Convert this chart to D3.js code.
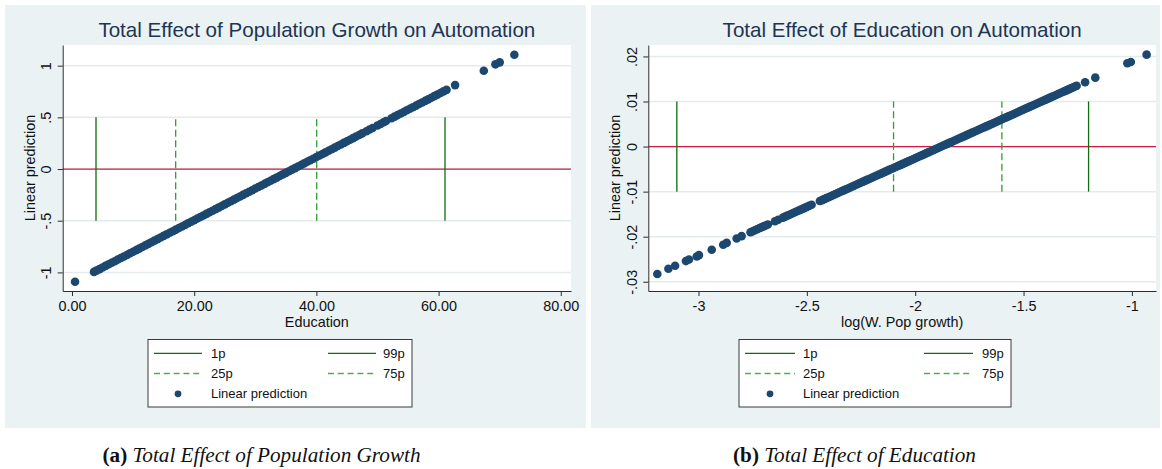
<!DOCTYPE html>
<html>
<head>
<meta charset="utf-8">
<script src="https://cdn.jsdelivr.net/npm/d3@7"></script>
<style>
  body { margin: 0; background: #ffffff; }
  text { font-family: "Liberation Sans", Arial, sans-serif; }
</style>
</head>
<body>
<svg id="chart" width="1162" height="469"></svg>
<script>
// ---- Panel (a): linear prediction of automation against Education ----
const popPoints = [
  [0.5,-1.090],[3.6,-0.995],[4.0,-0.983],[4.5,-0.968],[5.0,-0.953],[5.5,-0.937],[6.0,-0.922],
  [6.5,-0.907],[7.0,-0.892],[7.5,-0.876],[8.0,-0.861],[8.5,-0.846],[9.0,-0.831],[9.5,-0.815],
  [10.0,-0.800],[10.5,-0.785],[11.0,-0.770],[11.5,-0.754],[12.0,-0.739],[12.5,-0.724],[13.0,-0.709],
  [13.5,-0.693],[14.0,-0.678],[14.5,-0.663],[15.0,-0.647],[15.5,-0.632],[16.0,-0.617],[16.5,-0.602],
  [17.0,-0.586],[17.5,-0.571],[18.0,-0.556],[18.5,-0.541],[19.0,-0.525],[19.5,-0.510],[20.0,-0.495],
  [20.5,-0.479],[21.0,-0.464],[21.5,-0.449],[22.0,-0.434],[22.5,-0.418],[23.0,-0.403],[23.5,-0.388],
  [24.0,-0.373],[24.5,-0.357],[25.0,-0.342],[25.5,-0.327],[26.0,-0.312],[26.5,-0.296],[27.0,-0.281],
  [27.5,-0.266],[28.0,-0.250],[28.5,-0.235],[29.0,-0.220],[29.5,-0.205],[30.0,-0.189],[30.5,-0.174],
  [31.0,-0.159],[31.5,-0.144],[32.0,-0.128],[32.5,-0.113],[33.0,-0.098],[33.5,-0.083],[34.0,-0.067],
  [34.5,-0.052],[35.0,-0.037],[35.5,-0.022],[36.0,-0.006],[36.5,0.009],[37.0,0.024],[37.5,0.039],
  [38.0,0.055],[38.5,0.070],[39.0,0.085],[39.5,0.100],[40.0,0.116],[40.5,0.131],[41.0,0.146],
  [41.5,0.161],[42.0,0.177],[42.5,0.192],[43.0,0.207],[43.5,0.223],[44.0,0.238],[44.5,0.253],
  [45.0,0.268],[45.5,0.284],[46.0,0.299],[46.5,0.314],[47.0,0.329],[47.5,0.345],[48.2,0.366],
  [48.7,0.382],[49.2,0.397],[50.0,0.421],[50.5,0.436],[51.0,0.452],[51.4,0.464],[52.3,0.491],
  [52.8,0.507],[53.3,0.522],[53.8,0.537],[54.3,0.552],[54.8,0.568],[55.3,0.583],[55.8,0.598],
  [56.3,0.613],[56.8,0.629],[57.3,0.644],[57.8,0.659],[58.3,0.674],[58.8,0.690],[59.3,0.705],
  [59.8,0.720],[60.3,0.735],[60.8,0.751],[61.3,0.766],[62.7,0.812],[67.4,0.951],[69.3,1.013],
  [70.0,1.032],[72.4,1.105]
];
const popPercentiles = [3.93, 16.97, 40.05, 61.05];
const popXTicks = [0, 20, 40, 60, 80];
const popXTickLabels = ["0.00", "20.00", "40.00", "60.00", "80.00"];
const popYTicks = [-1, -0.5, 0, 0.5, 1];
const popYTickLabels = ["-1", "-.5", "0", ".5", "1"];

// ---- Panel (b): linear prediction of automation against log(W. Pop growth) ----
const eduPoints = [
  [-3.190,-0.02829],[-3.139,-0.02712],[-3.108,-0.02645],[-3.058,-0.02541],[-3.044,-0.02506],
  [-3.008,-0.02439],[-2.998,-0.02408],[-2.939,-0.02290],[-2.886,-0.02180],[-2.870,-0.02137],
  [-2.824,-0.02040],[-2.801,-0.01987],
  [-2.76,-0.01900],[-2.75,-0.01879],[-2.74,-0.01857],[-2.73,-0.01836],[-2.72,-0.01814],
  [-2.71,-0.01793],[-2.70,-0.01771],[-2.69,-0.01750],[-2.68,-0.01728],
  [-2.647,-0.01656],[-2.632,-0.01624],
  [-2.61,-0.01577],[-2.60,-0.01555],[-2.59,-0.01533],[-2.58,-0.01512],[-2.57,-0.01490],
  [-2.56,-0.01469],[-2.55,-0.01447],[-2.54,-0.01425],[-2.53,-0.01404],[-2.52,-0.01382],
  [-2.51,-0.01361],[-2.50,-0.01339],[-2.49,-0.01317],[-2.478,-0.01292],
  [-2.44,-0.01209],[-2.43,-0.01188],[-2.42,-0.01166],[-2.41,-0.01145],[-2.40,-0.01123],
  [-2.39,-0.01102],[-2.38,-0.01080],[-2.37,-0.01059],[-2.36,-0.01037],[-2.35,-0.01015],
  [-2.34,-0.00993],[-2.33,-0.00972],[-2.32,-0.00950],[-2.31,-0.00929],[-2.30,-0.00907],
  [-2.29,-0.00886],[-2.28,-0.00864],[-2.27,-0.00843],[-2.26,-0.00821],[-2.25,-0.00799],
  [-2.24,-0.00777],[-2.23,-0.00756],[-2.22,-0.00734],[-2.21,-0.00713],[-2.20,-0.00691],
  [-2.19,-0.00670],[-2.18,-0.00648],[-2.17,-0.00627],[-2.16,-0.00605],[-2.15,-0.00583],
  [-2.14,-0.00561],[-2.13,-0.00540],[-2.12,-0.00518],[-2.11,-0.00497],[-2.10,-0.00475],
  [-2.09,-0.00454],[-2.08,-0.00432],[-2.07,-0.00411],[-2.06,-0.00389],[-2.05,-0.00367],
  [-2.04,-0.00345],[-2.03,-0.00324],[-2.02,-0.00302],[-2.01,-0.00281],[-2.00,-0.00259],
  [-1.99,-0.00238],[-1.98,-0.00216],[-1.97,-0.00195],[-1.96,-0.00173],[-1.95,-0.00151],
  [-1.94,-0.00129],[-1.93,-0.00108],[-1.92,-0.00086],[-1.91,-0.00065],[-1.90,-0.00043],
  [-1.89,-0.00022],[-1.88,0.00000],[-1.87,0.00022],[-1.86,0.00043],[-1.85,0.00065],
  [-1.84,0.00087],[-1.83,0.00108],[-1.82,0.00130],[-1.81,0.00151],[-1.80,0.00173],
  [-1.79,0.00195],[-1.78,0.00216],[-1.77,0.00238],[-1.76,0.00259],[-1.75,0.00281],
  [-1.74,0.00303],[-1.73,0.00324],[-1.72,0.00346],[-1.71,0.00367],[-1.70,0.00389],
  [-1.69,0.00411],[-1.68,0.00432],[-1.67,0.00454],[-1.66,0.00475],[-1.65,0.00497],
  [-1.64,0.00519],[-1.63,0.00540],[-1.62,0.00562],[-1.61,0.00583],[-1.60,0.00605],
  [-1.59,0.00627],[-1.58,0.00648],[-1.57,0.00670],[-1.56,0.00691],[-1.55,0.00713],
  [-1.54,0.00735],[-1.53,0.00756],[-1.52,0.00778],[-1.51,0.00799],[-1.50,0.00821],
  [-1.49,0.00843],[-1.48,0.00864],[-1.47,0.00886],[-1.46,0.00907],[-1.45,0.00929],
  [-1.44,0.00951],[-1.43,0.00972],[-1.42,0.00994],[-1.41,0.01015],[-1.40,0.01037],
  [-1.39,0.01059],[-1.38,0.01080],[-1.37,0.01102],[-1.36,0.01123],[-1.35,0.01145],
  [-1.34,0.01167],[-1.33,0.01188],[-1.32,0.01210],[-1.31,0.01231],[-1.30,0.01253],
  [-1.29,0.01275],[-1.28,0.01296],[-1.27,0.01318],[-1.26,0.01339],[-1.255,0.01350],
  [-1.216,0.01428],[-1.169,0.01530],[-1.021,0.01849],[-1.005,0.01878],[-0.932,0.02040]
];
const eduPercentiles = [-3.10, -2.10, -1.60, -1.20];
const eduXTicks = [-3, -2.5, -2, -1.5, -1];
const eduXTickLabels = ["-3", "-2.5", "-2", "-1.5", "-1"];
const eduYTicks = [-0.03, -0.02, -0.01, 0, 0.01, 0.02];
const eduYTickLabels = ["-.03", "-.02", "-.01", "0", ".01", ".02"];

const percentileNames = ["1p", "25p", "75p", "99p"];
const predictionLabel = "Linear prediction";

// ---- styling ----
const C = {
  region: "#eaf2f3",
  grid: "#e3ebed",
  title: "#1f3454",
  marker: "#1c4870",
  zero: "#cc1c46",
  solidGreen: "#0d6e0d",
  dashGreen: "#2f9e34",
  legendDash: "#4fae50",
  axis: "#2b2b2b",
  text: "#111111"
};

const svg = d3.select("#chart");

function drawPanel(p) {
  const g = svg.append("g");

  // graph region and plot region
  g.append("rect").attr("x", p.bg[0]).attr("y", p.bg[1])
    .attr("width", p.bg[2]).attr("height", p.bg[3]).attr("fill", C.region);
  g.append("rect").attr("x", p.left).attr("y", p.top)
    .attr("width", p.right - p.left).attr("height", p.bottom - p.top).attr("fill", "#ffffff");

  const x = d3.scaleLinear().domain(p.xDomain).range([p.left, p.right]);
  const y = d3.scaleLinear().domain(p.yDomain).range([p.bottom, p.top]);

  // horizontal gridlines
  g.append("g").selectAll("line").data(p.yTicks).join("line")
    .attr("x1", p.left).attr("x2", p.right)
    .attr("y1", d => y(d)).attr("y2", d => y(d))
    .attr("stroke", C.grid).attr("stroke-width", 1.5);

  // reference line at zero
  g.append("line")
    .attr("x1", p.left).attr("x2", p.right)
    .attr("y1", y(0)).attr("y2", y(0))
    .attr("stroke", C.zero).attr("stroke-width", 1.3);

  // percentile markers
  g.append("g").selectAll("line").data(p.percentiles).join("line")
    .attr("x1", d => x(d)).attr("x2", d => x(d))
    .attr("y1", y(p.pctSpan[0])).attr("y2", y(p.pctSpan[1]))
    .attr("stroke", (d, i) => (i === 0 || i === 3) ? C.solidGreen : C.dashGreen)
    .attr("stroke-width", 1.3)
    .attr("stroke-dasharray", (d, i) => (i === 0 || i === 3) ? null : "7,3.5");

  // linear prediction points
  g.append("g").selectAll("circle").data(p.points).join("circle")
    .attr("cx", d => x(d[0])).attr("cy", d => y(d[1]))
    .attr("r", 4.3).attr("fill", C.marker);

  // y axis
  const ya = g.append("g").attr("transform", `translate(${p.left},0)`)
    .call(d3.axisLeft(y).tickValues(p.yTicks)
      .tickFormat((d, i) => p.yTickLabels[i]).tickSize(5).tickSizeOuter(0));
  ya.select(".domain").attr("stroke", C.axis);
  ya.selectAll(".tick line").attr("stroke", C.axis);
  ya.selectAll(".tick text")
    .attr("x", 0).attr("y", 0)
    .attr("transform", "translate(-16.5,0) rotate(-90)")
    .attr("text-anchor", "middle").attr("dy", "0.36em")
    .attr("fill", C.text).style("font-size", "14.4px")
    .style("font-family", "'Liberation Sans', Arial, sans-serif");

  // x axis
  const xa = g.append("g").attr("transform", `translate(0,${p.bottom})`)
    .call(d3.axisBottom(x).tickValues(p.xTicks)
      .tickFormat((d, i) => p.xTickLabels[i]).tickSize(5).tickPadding(4.5).tickSizeOuter(0));
  xa.select(".domain").attr("stroke", C.axis);
  xa.selectAll(".tick line").attr("stroke", C.axis);
  xa.selectAll(".tick text").attr("fill", C.text).style("font-size", "14.4px")
    .style("font-family", "'Liberation Sans', Arial, sans-serif");

  // axis titles
  g.append("text")
    .attr("transform", `translate(${p.left - 33},${(p.top + p.bottom) / 2}) rotate(-90)`)
    .attr("text-anchor", "middle").attr("dy", "0.36em")
    .attr("fill", C.text).style("font-size", "14.4px")
    .text(predictionLabel);
  g.append("text")
    .attr("x", (p.left + p.right) / 2).attr("y", p.bottom + 36)
    .attr("text-anchor", "middle").attr("fill", C.text).style("font-size", "14.4px")
    .text(p.xTitle);

  // chart title
  g.append("text")
    .attr("x", (p.left + p.right) / 2).attr("y", 36.5)
    .attr("text-anchor", "middle").attr("fill", C.title).style("font-size", "20.6px")
    .text(p.title);

  // legend
  const L = p.legend;
  const lg = g.append("g");
  lg.append("rect").attr("x", L.x0).attr("y", 339.5)
    .attr("width", L.x1 - L.x0).attr("height", 67.5)
    .attr("fill", "#ffffff").attr("stroke", "#3a3a3a").attr("stroke-width", 1);
  const rows = [353.3, 373.5, 393.8];
  const entries = [
    { name: percentileNames[0], col: 0, row: 0, dash: false },
    { name: percentileNames[3], col: 1, row: 0, dash: false },
    { name: percentileNames[1], col: 0, row: 1, dash: true },
    { name: percentileNames[2], col: 1, row: 1, dash: true }
  ];
  entries.forEach(e => {
    const lx = L.cols[e.col];
    lg.append("line")
      .attr("x1", lx[0]).attr("x2", lx[1])
      .attr("y1", rows[e.row]).attr("y2", rows[e.row])
      .attr("stroke", e.dash ? C.legendDash : C.solidGreen).attr("stroke-width", 1.3)
      .attr("stroke-dasharray", e.dash ? "6,3.8" : null);
    lg.append("text").attr("x", lx[2]).attr("y", rows[e.row] + 4.6)
      .attr("fill", C.text).style("font-size", "13px").text(e.name);
  });
  lg.append("circle").attr("cx", L.dot).attr("cy", rows[2]).attr("r", 3.4).attr("fill", C.marker);
  lg.append("text").attr("x", L.cols[0][2]).attr("y", rows[2] + 4.6)
    .attr("fill", C.text).style("font-size", "13px").text(predictionLabel);

  // caption
  const cap = svg.append("text")
    .attr("x", p.captionX).attr("y", 462)
    .attr("text-anchor", "middle").attr("fill", "#111")
    .style("font-family", "'Liberation Serif', 'DejaVu Serif', serif").style("font-size", "21.2px");
  cap.append("tspan").attr("font-weight", "bold").text(p.captionTag + " ");
  cap.append("tspan").attr("font-style", "italic").text(p.caption);
}

drawPanel({
  bg: [5, 5, 581, 423],
  left: 62.7, right: 571, top: 45, bottom: 291,
  xDomain: [-1.52, 81.67], yDomain: [-1.18, 1.2],
  points: popPoints, percentiles: popPercentiles, pctSpan: [-0.5, 0.5],
  xTicks: popXTicks, xTickLabels: popXTickLabels,
  yTicks: popYTicks, yTickLabels: popYTickLabels,
  title: "Total Effect of Population Growth on Automation",
  xTitle: "Education",
  legend: { x0: 148, x1: 412, cols: [[154, 202, 211], [328, 376, 383]], dot: 178 },
  captionX: 261.5, captionTag: "(a)", caption: "Total Effect of Population Growth"
});

drawPanel({
  bg: [591, 5, 569, 423],
  left: 648.3, right: 1156, top: 45, bottom: 291,
  xDomain: [-3.2317, -0.8888], yDomain: [-0.03205, 0.02254],
  points: eduPoints, percentiles: eduPercentiles, pctSpan: [-0.01, 0.01],
  xTicks: eduXTicks, xTickLabels: eduXTickLabels,
  yTicks: eduYTicks, yTickLabels: eduYTickLabels,
  title: "Total Effect of Education on Automation",
  xTitle: "log(W. Pop growth)",
  legend: { x0: 739, x1: 1011, cols: [[745, 795, 803], [924, 973, 982]], dot: 770 },
  captionX: 854.5, captionTag: "(b)", caption: "Total Effect of Education"
});
</script>
</body>
</html>
